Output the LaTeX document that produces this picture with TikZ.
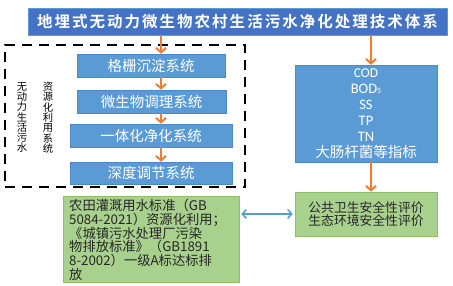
\documentclass[tikz,border=0pt]{standalone}
\usepackage{fontspec}
\setmainfont{Noto Sans CJK SC}[BoldFont={Noto Sans CJK SC Bold}]
\newfontfamily\latinf{Carlito}
\usetikzlibrary{arrows.meta}
\definecolor{titleblue}{HTML}{4472C4}
\definecolor{boxblue}{HTML}{5B9BD5}
\definecolor{boxline}{HTML}{4F88C6}
\definecolor{greenfill}{HTML}{A9D18E}
\definecolor{greenline}{HTML}{8CC168}
\definecolor{orangec}{HTML}{ED7D31}
\definecolor{arrowblue}{HTML}{5B9BD5}
\definecolor{darktext}{HTML}{262626}
\begin{document}
\begin{tikzpicture}[x=1pt,y=-1pt,
  titlebox/.style={fill=titleblue, draw=boxblue, line width=0.5pt, text=white, inner sep=0pt,
    font=\bfseries\fontsize{15.5}{17}\selectfont\addfontfeature{LetterSpace=13}},
  sysbox/.style={fill=boxblue, draw=boxline, line width=0.5pt, text=white, inner sep=0pt,
    font=\fontsize{14.5}{16}\selectfont},
  greenbox/.style={fill=greenfill, draw=greenline, line width=0.6pt, text=darktext, inner sep=0pt},
  dashbox/.style={draw=black, line width=2.4pt, dash pattern=on 10pt off 7pt, inner sep=0pt},
  vtext/.style={align=center, inner sep=0pt, text=black, font=\fontsize{10.3}{10.3}\selectfont},
  oarrow/.style={draw=orangec, line width=2pt, -{Straight Barb[length=4.5pt,width=10pt,line width=2pt]}},
  barrow/.style={draw=arrowblue, line width=1.5pt, {Straight Barb[length=4pt,width=9pt]}-{Straight Barb[length=4pt,width=9pt]}}
]
\useasboundingbox (0,0) rectangle (453,286);

\node[titlebox, minimum width=419pt, minimum height=27pt] (title) at (237.5,21.5) {地埋式无动力微生物农村生活污水净化处理技术体系};

\node[dashbox, minimum width=240pt, minimum height=142pt] (grp) at (125,116) {};

\node[sysbox, minimum width=148pt, minimum height=23pt] (box1) at (151,65.5) {格栅沉淀系统};
\node[sysbox, minimum width=149pt, minimum height=23pt] (box2) at (151.5,101.5) {微生物调理系统};
\node[sysbox, minimum width=162pt, minimum height=23pt] (box3) at (151,135.5) {一体化净化系统};
\node[sysbox, minimum width=162pt, minimum height=22pt] (box4) at (151,173) {深度调节系统};

\node[vtext] (v1) at (22,117.5) {无\\动\\力\\生\\活\\污\\水};
\node[vtext] (v2) at (48,117.5) {资\\源\\化\\利\\用\\系\\统};

\node[sysbox, minimum width=142pt, minimum height=97pt, align=center] (blue) at (366,113.5)
  {\fontsize{13.5}{13.7}\selectfont{\latinf COD}\\{\latinf BOD{\fontsize{8}{8}\selectfont 5}}\\{\latinf SS}\\{\latinf TP}\\{\latinf TN}\\大肠杆菌等指标};

\node[greenbox, minimum width=142pt, minimum height=44pt, align=center,
  font=\fontsize{12.8}{13}\selectfont] (greenR) at (366,214)
  {公共卫生安全性评价\\生态环境安全性评价};

\node[greenbox, minimum width=176pt, minimum height=86pt] (greenL) at (151,239) {};
\node[anchor=north west, align=left, inner sep=0pt, text=darktext,
  font=\fontsize{13.3}{13.8}\selectfont] (gtext) at (69,199)
  {农田灌溉用水标准（GB\\5084-2021）资源化利用；\\《城镇污水处理厂污染\\物排放标准》（GB1891\\8-2002）一级A标达标排\\放};

\coordinate (ax) at (161,0);
\coordinate (bx) at (371,0);
\draw[oarrow] (title.south -| ax) -- (box1.north -| ax);
\draw[oarrow] (box1.south -| ax) -- (box2.north -| ax);
\draw[oarrow] (box2.south -| ax) -- (box3.north -| ax);
\draw[oarrow] (box3.south -| ax) -- (box4.north -| ax);
\draw[oarrow] (title.south -| bx) -- (blue.north -| bx);
\draw[oarrow] (blue.south -| bx) -- (greenR.north -| bx);
\draw[barrow, shorten <=2pt, shorten >=2pt] (greenL.east |- greenR.west) -- (greenR.west);
\end{tikzpicture}
\end{document}
